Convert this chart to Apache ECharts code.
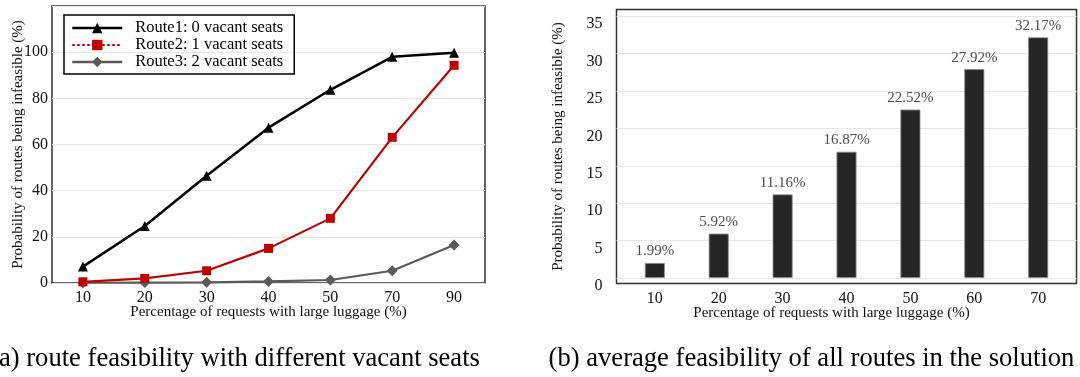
<!DOCTYPE html>
<html>
<head>
<meta charset="utf-8">
<script src="https://cdn.jsdelivr.net/npm/echarts@6/dist/echarts.min.js"></script>
<style>
html, body { margin: 0; padding: 0; background: #fff; }
#main { width: 1080px; height: 377px; }
</style>
</head>
<body>
<div id="main"></div>
<script>
// (a) route feasibility
var luggageA = ['10', '20', '30', '40', '50', '70', '90'];
var route1 = [7.1, 24.7, 46.5, 67.3, 83.7, 98.0, 99.8];
var route2 = [0.5, 2.0, 5.3, 15.0, 28.0, 63.1, 94.3];
var route3 = [0.1, 0.2, 0.3, 0.7, 1.3, 5.3, 16.5];

// (b) average feasibility
var luggageB = ['10', '20', '30', '40', '50', '60', '70'];
var avgInfeasible = [1.99, 5.92, 11.16, 16.87, 22.52, 27.92, 32.17];
var yTicksB = [0, 5, 10, 15, 20, 25, 30, 35];
var xTicksB = [0, 1, 2, 3, 4, 5, 6];

var serif = 'Liberation Serif';
var xTitle = 'Percentage of requests with large luggage (%)';
var yTitle = 'Probability of routes being infeasible (%)';

var chart = echarts.init(document.getElementById('main'));

// bars sit on a value axis so the margins match the original
var barData = avgInfeasible.map(function (v, i) { return [i, v]; });

var option = {
    animation: false,
    grid: [
        {left: 52, top: 6, width: 433, height: 277, show: true, borderColor: '#333', borderWidth: 1.5},
        {left: 616.5, top: 9.5, width: 460, height: 274, show: true, borderColor: '#333', borderWidth: 1.5}
    ],
    legend: {
        left: 64, top: 15,
        orient: 'vertical',
        itemWidth: 50, itemHeight: 13, itemGap: 0,
        padding: [4.5, 11, 3.5, 7],
        borderColor: '#000', borderWidth: 1.5, borderRadius: 0,
        textStyle: {fontFamily: serif, fontSize: 16.5, lineHeight: 17, color: '#000', padding: [0, 0, 0, 8]},
        data: [
            {name: 'Route1: 0 vacant seats', lineStyle: {width: 2.5}},
            {name: 'Route2: 1 vacant seats', lineStyle: {width: 2.2, type: [2.5, 2.5]}},
            {name: 'Route3: 2 vacant seats', lineStyle: {width: 2.5}}
        ]
    },
    xAxis: [
        {
            type: 'category', gridIndex: 0, data: luggageA, boundaryGap: true,
            axisLine: {show: false}, axisTick: {show: false},
            axisLabel: {fontFamily: serif, fontSize: 16, color: '#111', margin: 7},
            name: xTitle, nameLocation: 'middle', nameGap: 22, nameMoveOverlap: false,
            nameTextStyle: {fontFamily: serif, fontSize: 15, color: '#111'}
        },
        {
            type: 'value', gridIndex: 1, min: -0.6, max: 6.6,
            axisLine: {show: false},
            axisTick: {show: false, customValues: xTicksB},
            splitLine: {show: false},
            axisLabel: {
                customValues: xTicksB, fontFamily: serif, fontSize: 16, color: '#111', margin: 7,
                formatter: function (v) { return luggageB[Math.round(v)]; }
            },
            name: xTitle, nameLocation: 'middle', nameGap: 22.5, nameMoveOverlap: false,
            nameTextStyle: {fontFamily: serif, fontSize: 15, color: '#111', padding: [0, 30, 0, 0]}
        }
    ],
    yAxis: [
        {
            type: 'value', gridIndex: 0, min: 0, max: 120, interval: 20,
            axisLine: {show: false}, axisTick: {show: false},
            axisLabel: {showMaxLabel: false, fontFamily: serif, fontSize: 16, color: '#111', margin: 4},
            splitLine: {lineStyle: {color: '#e6e6e6', width: 1}},
            name: yTitle, nameLocation: 'middle', nameGap: 26, nameMoveOverlap: false,
            nameTextStyle: {fontFamily: serif, fontSize: 15, color: '#111'}
        },
        {
            type: 'value', gridIndex: 1, min: -0.75, max: 35.9,
            axisLine: {show: false},
            axisTick: {show: false, customValues: yTicksB},
            axisLabel: {
                customValues: yTicksB, fontFamily: serif, fontSize: 16, color: '#111', margin: 14,
                verticalAlign: 'top', lineHeight: 16
            },
            splitLine: {lineStyle: {color: '#e6e6e6', width: 1}},
            name: yTitle, nameLocation: 'middle', nameGap: 51, nameMoveOverlap: false,
            nameTextStyle: {fontFamily: serif, fontSize: 15, color: '#111'}
        }
    ],
    series: [
        {
            name: 'Route1: 0 vacant seats', type: 'line', xAxisIndex: 0, yAxisIndex: 0,
            data: route1, color: '#000', clip: false, z: 4,
            symbol: 'triangle', symbolSize: 10,
            lineStyle: {width: 2.5, color: '#000'}, itemStyle: {color: '#000'}
        },
        {
            name: 'Route2: 1 vacant seats', type: 'line', xAxisIndex: 0, yAxisIndex: 0,
            data: route2, color: '#c00000', clip: false, z: 3,
            symbol: 'rect', symbolSize: 9,
            lineStyle: {width: 2.2, color: '#c00000'}, itemStyle: {color: '#c00000'}
        },
        {
            name: 'Route3: 2 vacant seats', type: 'line', xAxisIndex: 0, yAxisIndex: 0,
            data: route3, color: '#5a5a5a', clip: false, z: 2,
            symbol: 'diamond', symbolSize: 11,
            lineStyle: {width: 2.2, color: '#5a5a5a'}, itemStyle: {color: '#5a5a5a'}
        },
        {
            name: 'avg', type: 'bar', xAxisIndex: 1, yAxisIndex: 1,
            data: barData, barWidth: 20,
            itemStyle: {color: '#262626', borderColor: '#8a8a8a', borderWidth: 0.8},
            label: {
                show: true, position: 'top', distance: 4,
                fontFamily: serif, fontSize: 15, color: '#4d4d4d',
                formatter: function (p) { return p.value[1].toFixed(2) + '%'; }
            }
        }
    ],
    graphic: [
        {
            type: 'text', x: 235, y: 359,
            style: {text: '(a) route feasibility with different vacant seats', font: '26.6px "Liberation Serif"',
                align: 'center', verticalAlign: 'middle', fill: '#000'}
        },
        {
            type: 'text', x: 811.5, y: 359,
            style: {text: '(b) average feasibility of all routes in the solution', font: '26.6px "Liberation Serif"',
                align: 'center', verticalAlign: 'middle', fill: '#000'}
        }
    ]
};

chart.setOption(option);
</script>
</body>
</html>
